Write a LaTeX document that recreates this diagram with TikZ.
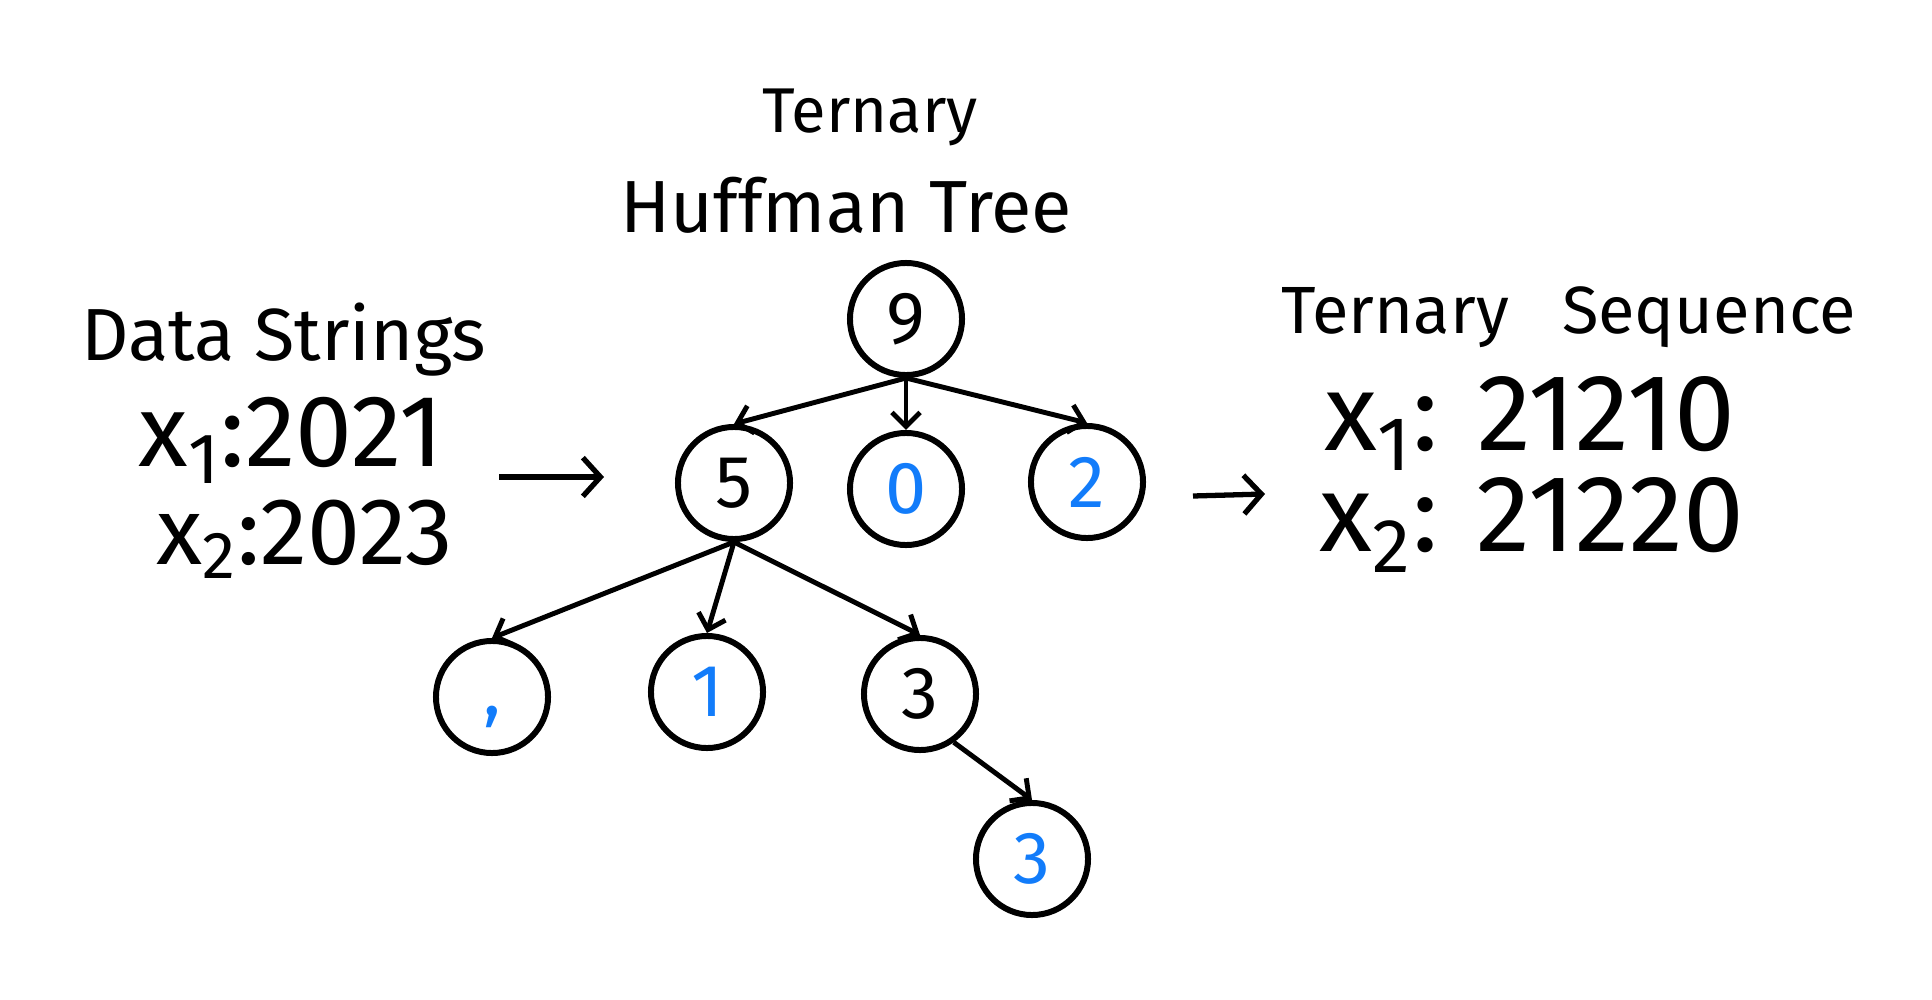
\documentclass[tikz,border=0pt]{standalone}
\usepackage{fontspec}
\setmainfont{Fira Sans}
\usetikzlibrary{arrows.meta}
\definecolor{digitblue}{RGB}{18,124,250}
\newcommand{\xsub}[1]{x\textsubscript{#1}}
\begin{document}
\begin{tikzpicture}[x=0.01cm,y=-0.01cm,
  knot/.style={circle, draw, line width=1.7pt, minimum size=1.12cm, inner sep=0pt, font=\fontsize{21}{24}\selectfont},
  leaf/.style={knot, text=digitblue},
  edge/.style={line width=1.4pt, -{Straight Barb[length=4pt,width=8pt]}},
  bigarrow/.style={line width=1.5pt, -{Straight Barb[length=5pt,width=11pt]}},
  hand/.style={anchor=base, inner sep=0pt}]
\useasboundingbox (0,0) rectangle (1932,1000);
%%% titles
\node[hand, font=\fontsize{18}{20}\selectfont] (ttree) at (870,133) {Ternary};
\node[hand, font=\fontsize{21}{24}\selectfont] (htree) at (846,232) {Huffman Tree};
\node[hand, font=\fontsize{21}{24}\selectfont] (dstr) at (284,360) {Data Strings};
\node[hand, font=\fontsize{19}{22}\selectfont] (tseq) at (1569,333) {Ternary\ \ \ Sequence};
%%% data strings
\node[hand, font=\fontsize{29}{32}\selectfont] (xone) at (291,466) {\xsub{1}:2021};
\node[hand, font=\fontsize{27}{30}\selectfont] (xtwo) at (305,564) {\xsub{2}:2023};
%%% ternary codes
\node[hand, font=\fontsize{31}{34}\selectfont] (cone) at (1530,450) {\xsub{1}: 21210};
\node[hand, font=\fontsize{31}{34}\selectfont] (ctwo) at (1532,551) {\xsub{2}: 21220};
%%% the tree
\node[knot] (n9) at (906,319) {9};
\node[knot] (n5) at (734,483) {5};
\node[leaf] (n0) at (906,489) {0};
\node[leaf] (n2) at (1087,482) {2};
\node[leaf] (ncomma) at (492,697) {\vphantom{0},};
\node[leaf] (n1) at (707,692) {1};
\node[knot] (n3) at (920,694) {3};
\node[leaf] (n3b) at (1032,859) {3};
%%% edges
\draw[edge] (n9.south) -- (n5.north);
\draw[edge] (n9.south) -- (n0.north);
\draw[edge] (n9.south) -- (n2.north);
\draw[edge] (n5.south) -- (ncomma.north);
\draw[edge] (n5.south) -- (n1.north);
\draw[edge] (n5.south) -- (n3.north);
\draw[edge] (n3.-55) -- (n3b.north);
%%% big arrows
\coordinate (lfrom) at (499,477);
\coordinate (lto) at (604,477);
\coordinate (rfrom) at (1193,496);
\coordinate (rto) at (1265,494);
\draw[bigarrow] (lfrom) -- (lto);
\draw[bigarrow] (rfrom) -- (rto);
\end{tikzpicture}
\end{document}
